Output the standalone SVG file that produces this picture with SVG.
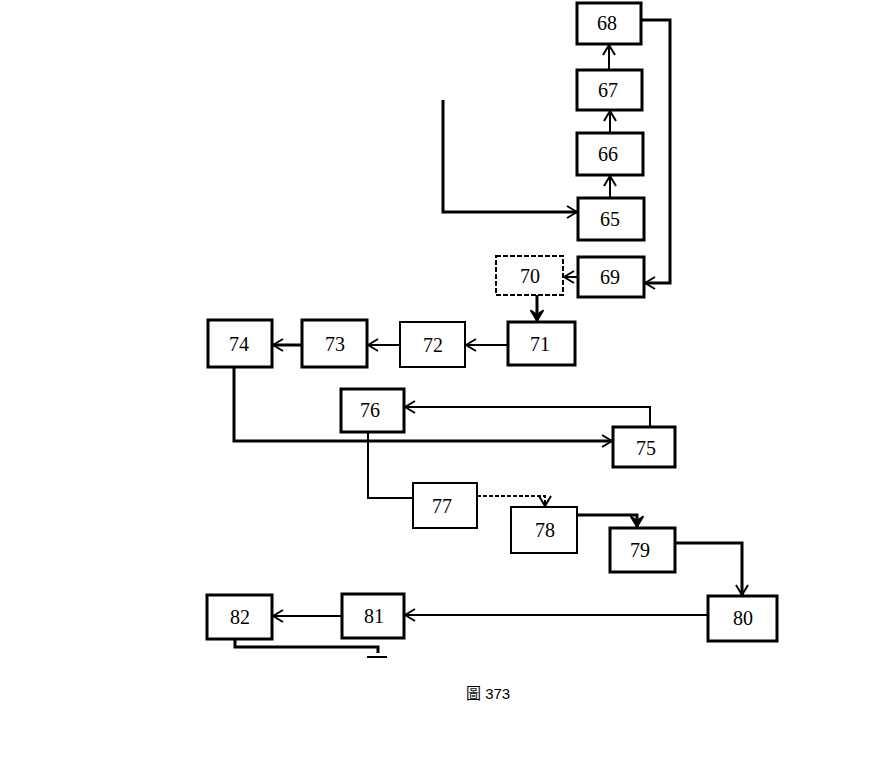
<svg xmlns="http://www.w3.org/2000/svg" width="895" height="782" viewBox="0 0 895 782">
<style>
.box{fill:#fff;stroke:#000;stroke-width:3}
.lt{stroke-width:2}
.ds{stroke-dasharray:5 2;stroke-width:2}
.lbl{font-family:"Liberation Serif",serif;font-size:20px;fill:#000;text-anchor:middle;dominant-baseline:central}
.c{fill:none;stroke:#000;stroke-width:2}
.cb{fill:none;stroke:#000;stroke-width:3}
.cap{font-family:"Liberation Sans","Noto Sans CJK TC",sans-serif;font-size:15px;fill:#000}
</style>
<defs>
<marker id="a" viewBox="0 0 12 14" refX="11" refY="7" markerWidth="12" markerHeight="14" markerUnits="userSpaceOnUse" orient="auto">
<path d="M1,1 L11,7 L1,13" fill="none" stroke="#000" stroke-width="2"/>
</marker>
<marker id="af" viewBox="0 0 12 14" refX="11" refY="7" markerWidth="13" markerHeight="15" markerUnits="userSpaceOnUse" orient="auto">
<path d="M1,1 L11,7 L1,13 L5,7 Z" fill="#000" stroke="#000" stroke-width="1.5"/>
</marker>
</defs>
<rect width="895" height="782" fill="#fff"/>
<g id="connectors">
<path class="c" d="M610,198 V176" marker-end="url(#a)"/>
<path class="c" d="M610,133 V111" marker-end="url(#a)"/>
<path class="c" d="M609,70 V45" marker-end="url(#a)"/>
<path class="cb" d="M641,20 H670 V283 H645" marker-end="url(#a)"/>
<path class="cb" d="M443,100 V212 H577" marker-end="url(#a)"/>
<path class="c" d="M578,277 H564" marker-end="url(#a)"/>
<path class="cb" d="M537,295 V321" marker-end="url(#af)"/>
<path class="c" d="M508,345 H466" marker-end="url(#a)"/>
<path class="c" d="M400,345 H368" marker-end="url(#a)"/>
<path class="cb" d="M302,345 H273" marker-end="url(#a)"/>
<path class="cb" d="M234,367 V441 H612" marker-end="url(#a)"/>
<path class="c" d="M650,427 V407 H405" marker-end="url(#a)"/>
<path class="c" d="M368,432 V498 H413"/>
<path class="c" d="M477,496 H545 V506" stroke-dasharray="4 2" marker-end="url(#a)"/>
<path class="cb" d="M577,515 H637 V527" marker-end="url(#af)"/>
<path class="cb" d="M675,543 H742 V595" marker-end="url(#a)"/>
<path class="c" d="M708,615 H405" marker-end="url(#a)"/>
<path class="c" d="M342,616 H273" marker-end="url(#a)"/>
<path class="cb" d="M235,639 V647 H378 V653"/>
<path class="c" d="M367,657 H387"/>
</g>
<g id="n68"><rect class="box" x="577" y="3" width="64" height="41"/><text class="lbl" x="607" y="23">68</text></g>
<g id="n67"><rect class="box" x="577" y="70" width="65" height="40"/><text class="lbl" x="608" y="90">67</text></g>
<g id="n66"><rect class="box" x="577" y="133" width="66" height="42"/><text class="lbl" x="608" y="154">66</text></g>
<g id="n65"><rect class="box" x="578" y="198" width="66" height="42"/><text class="lbl" x="610" y="219">65</text></g>
<g id="n69"><rect class="box" x="578" y="257" width="66" height="40"/><text class="lbl" x="610" y="277">69</text></g>
<g id="n70"><rect class="box ds" x="496" y="256" width="67" height="39"/><text class="lbl" x="530" y="276">70</text></g>
<g id="n71"><rect class="box" x="508" y="322" width="67" height="43"/><text class="lbl" x="540" y="344">71</text></g>
<g id="n72"><rect class="box lt" x="400" y="322" width="65" height="45"/><text class="lbl" x="433" y="345">72</text></g>
<g id="n73"><rect class="box" x="302" y="320" width="65" height="47"/><text class="lbl" x="335" y="344">73</text></g>
<g id="n74"><rect class="box" x="208" y="320" width="64" height="47"/><text class="lbl" x="239" y="344">74</text></g>
<g id="n76"><rect class="box" x="341" y="389" width="63" height="43"/><text class="lbl" x="370" y="410">76</text></g>
<g id="n75"><rect class="box" x="613" y="427" width="62" height="40"/><text class="lbl" x="646" y="448">75</text></g>
<g id="n77"><rect class="box lt" x="413" y="483" width="64" height="45"/><text class="lbl" x="442" y="506">77</text></g>
<g id="n78"><rect class="box lt" x="511" y="507" width="66" height="46"/><text class="lbl" x="545" y="530">78</text></g>
<g id="n79"><rect class="box" x="610" y="528" width="65" height="44"/><text class="lbl" x="640" y="550">79</text></g>
<g id="n80"><rect class="box" x="708" y="596" width="69" height="45"/><text class="lbl" x="743" y="618">80</text></g>
<g id="n81"><rect class="box" x="342" y="594" width="62" height="44"/><text class="lbl" x="374" y="616">81</text></g>
<g id="n82"><rect class="box" x="207" y="595" width="65" height="44"/><text class="lbl" x="240" y="617">82</text></g>
<text class="cap" x="466" y="699">圖 373</text>
</svg>
